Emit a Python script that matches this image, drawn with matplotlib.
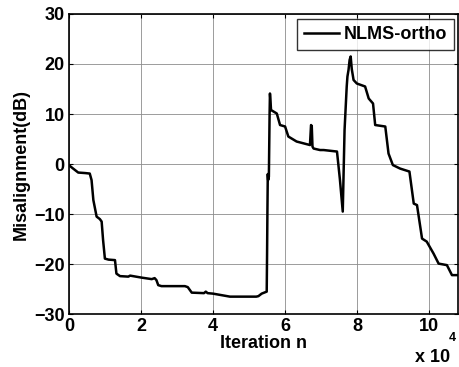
import matplotlib
matplotlib.use('Agg')
import matplotlib.pyplot as plt

plt.rcParams['font.family'] = ['Liberation Sans', 'DejaVu Sans']
plt.rcParams['font.weight'] = 'bold'

# iteration (x 1e4) and misalignment (dB)
n_1e4 = [0.0, 0.1, 0.26, 0.45, 0.58, 0.63, 0.68, 0.77, 0.86, 0.91, 0.95, 1.0,
         1.1, 1.28, 1.32, 1.42, 1.65, 1.7, 2.02, 2.3, 2.38, 2.43, 2.48, 2.57,
         3.22, 3.3, 3.41, 3.75, 3.8, 3.85, 4.0, 4.47, 5.2, 5.26, 5.35, 5.49,
         5.5, 5.51, 5.52, 5.53, 5.55, 5.57, 5.58, 5.6, 5.61, 5.77, 5.86, 6.0,
         6.09, 6.32, 6.69, 6.72, 6.74, 6.76, 6.79, 6.97, 7.07, 7.44, 7.52, 7.6,
         7.65, 7.71, 7.73, 7.76, 7.79, 7.82, 7.85, 7.9, 7.99, 8.22, 8.32, 8.44,
         8.5, 8.78, 8.87, 8.99, 9.19, 9.45, 9.57, 9.66, 9.8, 9.93, 10.12, 10.26,
         10.49, 10.63, 10.8]
misalign_db = [-0.2, -0.8, -1.7, -1.8, -1.9, -3.2, -7.2, -10.5, -11.0, -11.5, -15.2, -18.9,
               -19.1, -19.2, -21.9, -22.4, -22.5, -22.3, -22.7, -23.0, -22.8, -23.2, -24.2, -24.4,
               -24.4, -24.6, -25.7, -25.8, -25.5, -25.8, -25.9, -26.5, -26.5, -26.4, -25.9, -25.5,
               -18.0, -9.2, -2.0, -3.2, -2.5, 10.0, 14.1, 12.0, 10.8, 10.1, 7.8, 7.5,
               5.5, 4.5, 3.8, 7.8, 7.6, 3.5, 3.1, 2.8, 2.8, 2.5, -3.0, -9.5,
               6.8, 15.5, 17.5, 18.8, 20.8, 21.5, 19.0, 16.8, 16.1, 15.5, 13.1, 12.1,
               7.8, 7.5, 2.1, -0.2, -0.9, -1.5, -7.9, -8.2, -14.9, -15.5, -17.9, -19.9,
               -20.2, -22.2, -22.2]
n_iter = [v * 1e4 for v in n_1e4]

fig = plt.figure(figsize=(4.59, 3.67), dpi=100)
ax = fig.add_axes([0.150, 0.144, 0.848, 0.818])

ax.plot(n_iter, misalign_db, color='black', lw=1.8, label='NLMS-ortho')

ax.set_xlim(0, 108000)
ax.set_ylim(-30, 30)
ax.set_xticks([0, 20000, 40000, 60000, 80000, 100000])
ax.set_xticklabels(['0', '2', '4', '6', '8', '10'])
ax.set_yticks([-30, -20, -10, 0, 10, 20, 30])
ax.grid(True, color='#8c8c8c', lw=0.6)
ax.tick_params(direction='in', length=3, labelsize=13, top=True, right=True, pad=3)
for t in ax.get_xticklabels() + ax.get_yticklabels():
    t.set_fontweight('bold')
for s in ax.spines.values():
    s.set_linewidth(1.2)

ax.set_xlabel('Iteration n', fontsize=13, fontweight='bold', labelpad=0)
ax.set_ylabel('Misalignment(dB)', fontsize=13, fontweight='bold', labelpad=3)

fig.text(0.905, 0.014, 'x 10', fontsize=13, fontweight='bold')
fig.text(0.978, 0.07, '4', fontsize=9, fontweight='bold')

leg = ax.legend(loc='upper right', fontsize=13, frameon=True, fancybox=False,
                edgecolor='black', borderpad=0.38, handlelength=1.9,
                borderaxespad=0.3, handletextpad=0.3,
                bbox_to_anchor=(1.004, 1.0))
leg.get_frame().set_linewidth(1.0)
for t in leg.get_texts():
    t.set_fontweight('bold')

fig.savefig('out.png', dpi=100)
